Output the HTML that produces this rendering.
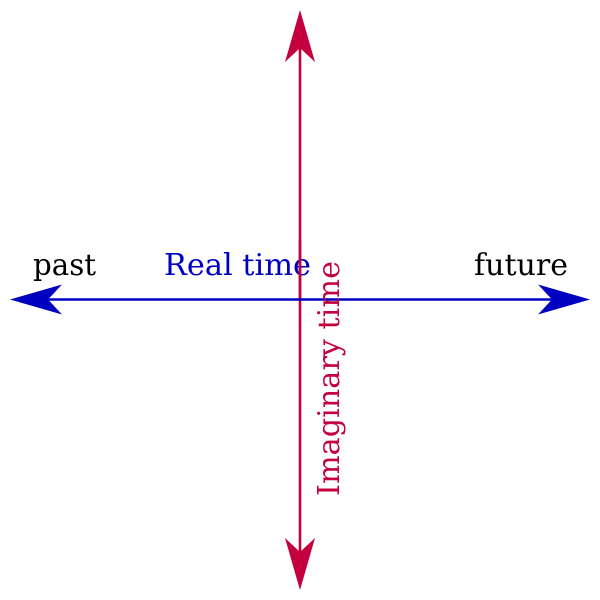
<!DOCTYPE html>
<html>
<head>
<meta charset="utf-8">
<style>
html,body{margin:0;padding:0;background:#fff;}
svg{display:block;}
text{font-family:"DejaVu Serif","Liberation Serif",serif;font-size:30px;}
</style>
</head>
<body>
<svg width="600" height="600" viewBox="0 0 600 600" xmlns="http://www.w3.org/2000/svg">
  <rect width="600" height="600" fill="#fff"/>
  <!-- vertical red axis -->
  <line x1="300" y1="40" x2="300" y2="560" stroke="#c4003e" stroke-width="2.6"/>
  <polygon points="300,10 315,62 300,48 285,62" fill="#c4003e"/>
  <polygon points="300,590 315,538 300,552 285,538" fill="#c4003e"/>
  <!-- horizontal blue axis -->
  <line x1="40" y1="299.5" x2="560" y2="299.5" stroke="#0000c0" stroke-width="2.6"/>
  <polygon points="10,299.5 62,284.5 48,299.5 62,314.5" fill="#0000c0"/>
  <polygon points="590,299.5 538,284.5 552,299.5 538,314.5" fill="#0000c0"/>
  <!-- labels -->
  <text x="33" y="275" fill="#000" textLength="63" lengthAdjust="spacingAndGlyphs">past</text>
  <text x="474" y="275" fill="#000" textLength="94" lengthAdjust="spacingAndGlyphs">future</text>
  <text x="164" y="275" fill="#0000c0" textLength="147" lengthAdjust="spacingAndGlyphs">Real time</text>
  <line x1="300" y1="240" x2="300" y2="298" stroke="#c4003e" stroke-width="2.6"/>
  <text transform="translate(339,496) rotate(-90)" x="0" y="0" fill="#c4003e" textLength="235" lengthAdjust="spacingAndGlyphs">Imaginary time</text>
</svg>
</body>
</html>
